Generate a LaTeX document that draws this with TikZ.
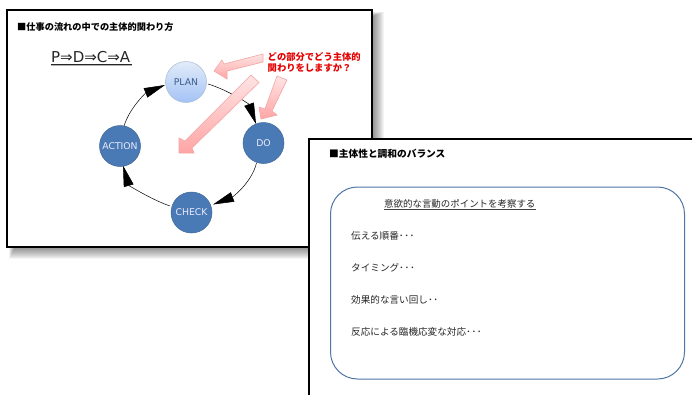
\documentclass[tikz,border=0pt]{standalone}
\usepackage{fontspec}
\setmainfont{DejaVu Sans}
\newfontfamily\cjk{Noto Sans CJK JP}
\usetikzlibrary{arrows.meta,shadings}
\definecolor{slideblue}{HTML}{4F75A8}
\definecolor{stepfill}{HTML}{4A7AB5}
\definecolor{stepedge}{HTML}{3F6797}
\definecolor{planlight}{HTML}{E2EBF9}
\definecolor{plandark}{HTML}{A3C3F5}
\definecolor{plantext}{HTML}{3A5C8C}
\definecolor{arrowtop}{HTML}{FFE4E4}
\definecolor{arrowbot}{HTML}{FFA5A5}
\definecolor{arrowedge}{HTML}{F3A5A5}
\newcommand{\dotsthree}{･\kern.6pt･\kern.6pt･}
\newcommand{\dotstwo}{･\kern.6pt･}
\tikzset{
  x=1pt,y=-1pt,
  slide/.style={draw=black,line width=1.7pt,fill=white},
  stepnode/.style={circle,draw=stepedge,line width=.5pt,fill=stepfill,text=white!92!blue,minimum size=41pt,inner sep=0pt,font=\fontsize{9.3}{10}\selectfont},
  cycle/.style={draw=black,line width=.5pt,-{Triangle[length=21pt,width=10pt]}},
  blockarrow/.style={draw=arrowedge,line width=.6pt,top color=arrowtop,bottom color=arrowbot},
  heading/.style={anchor=west,inner sep=0pt,font=\cjk\bfseries\fontsize{9.2}{11}\selectfont},
  item/.style={anchor=west,inner sep=0pt,text=black!85,font=\cjk\fontsize{9.6}{11}\selectfont},
}
\begin{document}
\begin{tikzpicture}
\useasboundingbox (0,0) rectangle (692,394);
\fill[white] (0,0) rectangle (692,394);
% first slide
\foreach \g in {0,...,11}{
  \fill[black,opacity=.045] ({9+\g*.5},{12+\g*.4}) rectangle ({384-\g},{259-\g});
}
\draw[slide] (7,10) rectangle (372,247);
\node[heading] (t1) at (17,27) {■仕事の流れの中での主体的関わり方};
\node[anchor=west,inner sep=0pt,font=\fontsize{15}{17}\selectfont,text=black!85] (pdca) at (51,57) {P⇒D⇒C⇒A};
\coordinate (ulA) at (51,64); \coordinate (ulB) at (132,64);
\draw[black!30,line width=1.2pt] ([yshift=-1.2pt]ulA) -- ([yshift=-1.2pt]ulB);
\draw[black!85,line width=.9pt] (ulA) -- (ulB);
% cycle
\node[stepnode,fill=none,draw=none] (plan) at (186,82) {};
\shade[top color=planlight,bottom color=plandark] (plan.center) circle (20.5pt);
\draw[stepedge!45,line width=.5pt] (plan.center) circle (20.5pt);
\node[inner sep=0pt,text=plantext,font=\fontsize{9.3}{10}\selectfont] (plant) at (plan.center) {PLAN};
\node[stepnode] (do) at (263.5,143) {DO};
\node[stepnode] (check) at (191.5,212.5) {CHECK};
\node[stepnode] (action) at (120,146) {ACTION};
\coordinate (p1) at (208,84); \coordinate (d1) at (256,124);
\coordinate (d2) at (256.5,163); \coordinate (c1) at (213,204.5);
\coordinate (c2) at (170,206); \coordinate (a1) at (123,165.5);
\coordinate (a2) at (124,126); \coordinate (p2) at (165,85);
\draw[cycle] (p1) .. controls (228,90) and (249,104) .. (d1);
\draw[cycle] (d2) .. controls (251.5,183) and (232.5,197) .. (c1);
\draw[cycle] (c2) .. controls (151,199.5) and (128.5,185) .. (a1);
\draw[cycle] (a2) .. controls (130,107) and (146.5,92.5) .. (p2);
% block arrows
\shade[blockarrow] (263,54) -- (263,62) -- (227,71) -- (227,79) -- (214,71) -- (222,60) -- (224,64) -- cycle;
\shade[blockarrow] (251,75) -- (259,82.5) -- (192,148) -- (194,153) -- (179,153) -- (179,138) -- (185,141) -- cycle;
\shade[blockarrow] (277,76) -- (287,80) -- (272,111) -- (277,115) -- (261,119) -- (259,107) -- (265,109) -- cycle;
\node[anchor=north west,inner sep=0pt,align=left,text=red!90!black,font=\cjk\bfseries\fontsize{9.3}{11.2}\selectfont] (q) at (267.5,52) {どの部分でどう主体的\\関わりをしますか？};
% second slide
\draw[slide,line width=2pt] (309,139) rectangle (700,400);
\node[heading,font=\cjk\bfseries\fontsize{9.7}{11}\selectfont] (t2) at (329,154) {■主体性と調和のバランス};
\node[draw=slideblue,line width=1pt,rounded corners=27pt,minimum width=354pt,minimum height=192pt,inner sep=0pt] (box) at (507.5,283) {};
\node[item,font=\cjk\fontsize{9.45}{11}\selectfont] (h) at (384,204) {意欲的な言動のポイントを考察する};
\draw[black!75,line width=.5pt] ([yshift=-.3pt]h.south west) -- ([yshift=-.3pt]h.south east);
\node[item] (a) at (351,236) {伝える順番\dotsthree};
\node[item] (b) at (351,268) {タイミング\dotsthree};
\node[item] (c) at (351,300) {効果的な言い回し\dotstwo};
\node[item] (d) at (351,332) {反応による臨機応変な対応\dotsthree};
\end{tikzpicture}
\end{document}
